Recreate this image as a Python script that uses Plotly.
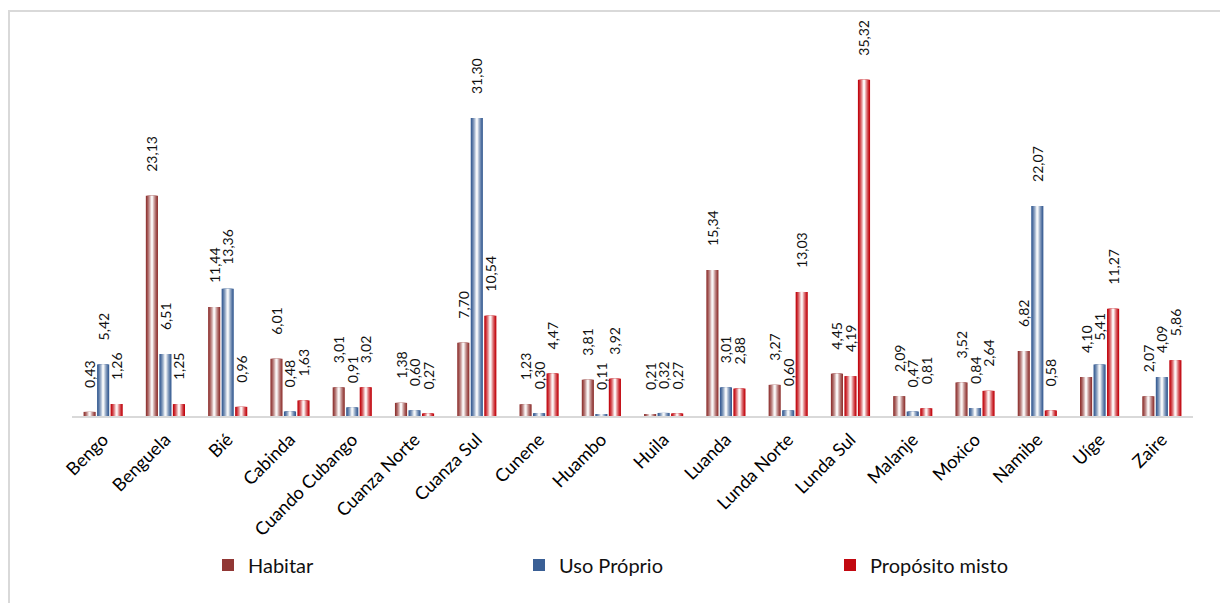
import plotly.graph_objects as go

# Provinces and percentage shares by purpose of use
provinces = ["Bengo", "Benguela", "Bié", "Cabinda", "Cuando Cubango", "Cuanza Norte",
             "Cuanza Sul", "Cunene", "Huambo", "Huila", "Luanda", "Lunda Norte",
             "Lunda Sul", "Malanje", "Moxico", "Namibe", "Uíge", "Zaire"]
habitar = [0.43, 23.13, 11.44, 6.01, 3.01, 1.38, 7.70, 1.23, 3.81, 0.21,
           15.34, 3.27, 4.45, 2.09, 3.52, 6.82, 4.10, 2.07]
uso_proprio = [5.42, 6.51, 13.36, 0.48, 0.91, 0.60, 31.30, 0.30, 0.11, 0.32,
               3.01, 0.60, 4.19, 0.47, 0.84, 22.07, 5.41, 4.09]
proposito_misto = [1.26, 1.25, 0.96, 1.63, 3.02, 0.27, 10.54, 4.47, 3.92, 0.27,
                   2.88, 13.03, 35.32, 0.81, 2.64, 0.58, 11.27, 5.86]

series = [
    ("Habitar", habitar, "#8e302e"),
    ("Uso Próprio", uso_proprio, "#345a92"),
    ("Propósito misto", proposito_misto, "#c00008"),
]
# points drawn in another series' colour
point_colour_from = {("Uso Próprio", "Lunda Sul"): "Propósito misto"}

FONT = "Lato, 'Open Sans', sans-serif"
BAR_W = 0.195      # bar width in category units
SLOT = 0.217       # distance between bar centres inside a group
BANDS = [1.0, 0.83, 0.67, 0.5, 0.33, 0.17]  # nested widths for the shading


def hex_to_rgb(h):
    h = h.lstrip("#")
    return tuple(int(h[i:i + 2], 16) for i in (0, 2, 4))


def mix_white(h, t):
    r, g, b = hex_to_rgb(h)
    return "rgb({},{},{})".format(int(r + (255 - r) * t), int(g + (255 - g) * t), int(b + (255 - b) * t))


def fmt(v):
    return "\u2002\u2002\u2002" + "{:.2f}".format(v).replace(".", ",")


base = {name: col for name, _, col in series}
fig = go.Figure()
for i, (name, values, colour) in enumerate(series):
    centre = (i - 1) * SLOT
    point_base = [base[point_colour_from.get((name, p), name)] for p in provinces]
    for k, f in enumerate(BANDS):
        nxt = BANDS[k + 1] if k + 1 < len(BANDS) else 0.0
        p = 1 - (f + nxt) / 2  # 0 at the edge, 1 in the middle
        t = min(p ** 1.4 * 1.08, 0.98)
        w = BAR_W * f
        fig.add_trace(go.Bar(
            x=provinces, y=values, name=name,
            legendgroup=name, showlegend=(k == 0),
            width=w, offset=centre - w / 2,
            marker=dict(color=[mix_white(c, t) for c in point_base], line=dict(width=0)),
            text=[fmt(v) for v in values] if k == 0 else None,
            textposition="outside" if k == 0 else "none",
            textangle=-90,
            textfont=dict(family=FONT, size=14, color="#111111"),
            constraintext="none",
            cliponaxis=False,
            hoverinfo="skip" if k else "x+y+name",
        ))

PLOT_L, PLOT_R, PLOT_T, PLOT_B = 72, 1193, 40, 416
W, H = 1220, 603
pw = PLOT_R - PLOT_L
ph = PLOT_B - PLOT_T

# outer frame of the chart area
fig.add_shape(type="rect", xref="paper", yref="paper",
              x0=(9 - PLOT_L) / pw, x1=(W + 20 - PLOT_L) / pw,
              y0=(PLOT_B - (H + 20)) / ph, y1=(PLOT_B - 11) / ph,
              line=dict(color="#d9d9d9", width=2), fillcolor="rgba(0,0,0,0)", layer="below")

fig.update_layout(
    width=W, height=H,
    margin=dict(l=PLOT_L, r=W - PLOT_R, t=PLOT_T, b=H - PLOT_B, autoexpand=False),
    barmode="overlay",
    plot_bgcolor="white", paper_bgcolor="white",
    font=dict(family=FONT, color="#000000"),
    showlegend=True,
    legend=dict(orientation="h", x=(208 - PLOT_L) / pw, xanchor="left",
                y=(PLOT_B - 565) / ph, yanchor="middle",
                entrywidth=266, entrywidthmode="pixels",
                font=dict(family=FONT, size=20, color="#111111"),
                traceorder="normal", itemclick=False),
    xaxis=dict(type="category", showline=True, linecolor="#d9d9d9", linewidth=2,
               showgrid=False, ticks="", tickangle=-45, ticklabelstandoff=4,
               tickfont=dict(family=FONT, size=18, color="#000000")),
    yaxis=dict(range=[0, ph / 9.52], visible=False, showgrid=False, zeroline=False),
)

fig.write_html("out.html")
